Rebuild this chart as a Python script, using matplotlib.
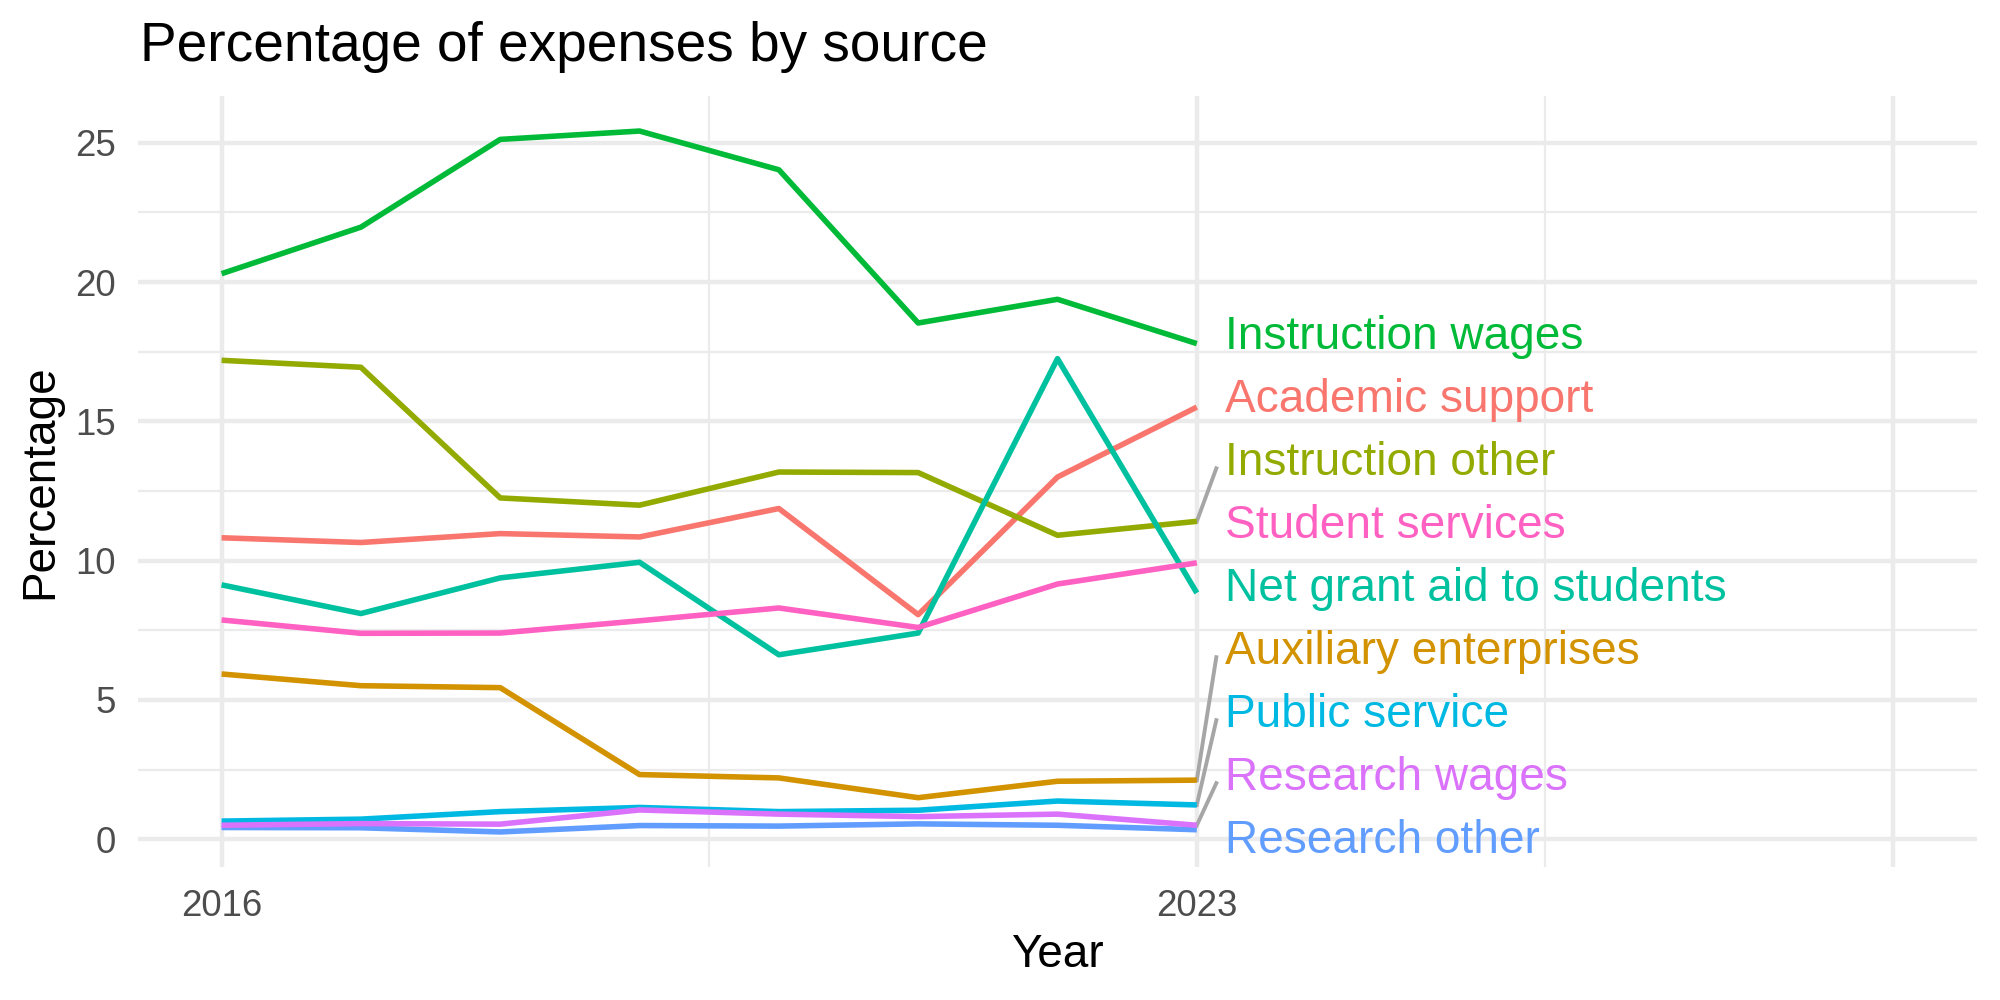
import numpy as np
import matplotlib.pyplot as plt

plt.rcParams['font.family'] = ['Liberation Sans', 'DejaVu Sans']

# Data
years = [2016, 2017, 2018, 2019, 2020, 2021, 2022, 2023]

academic_support = [10.82, 10.65, 10.97, 10.85, 11.87, 8.06, 13.00, 15.51]
auxiliary_enterprises = [5.93, 5.51, 5.44, 2.32, 2.20, 1.49, 2.08, 2.12]
instruction_other = [17.19, 16.94, 12.25, 11.99, 13.18, 13.16, 10.91, 11.41]
instruction_wages = [20.30, 21.97, 25.12, 25.42, 24.03, 18.53, 19.38, 17.79]
net_grant_aid = [9.13, 8.10, 9.38, 9.94, 6.62, 7.40, 17.25, 8.84]
public_service = [0.65, 0.72, 0.99, 1.14, 0.99, 1.04, 1.37, 1.23]
research_other = [0.42, 0.41, 0.26, 0.49, 0.47, 0.55, 0.50, 0.34]
research_wages = [0.50, 0.56, 0.54, 1.05, 0.90, 0.81, 0.90, 0.50]
student_services = [7.87, 7.39, 7.40, 7.84, 8.30, 7.60, 9.16, 9.92]

series_names = ['Academic support', 'Auxiliary enterprises', 'Instruction other',
                'Instruction wages', 'Net grant aid to students', 'Public service',
                'Research other', 'Research wages', 'Student services']
series_values = [academic_support, auxiliary_enterprises, instruction_other,
                 instruction_wages, net_grant_aid, public_service,
                 research_other, research_wages, student_services]
# ggplot default hue palette for 9 groups
colors = ['#F8766D', '#D39200', '#93AA00', '#00BA38', '#00C19F',
          '#00B9E3', '#619CFF', '#DB72FB', '#FF61C3']

x_breaks = [2016, 2023, 2028]
x_labels = ['2016', '2023', '']

fig = plt.figure(figsize=(10, 5), dpi=200)
ax = fig.add_axes([0.069, 0.133, 0.9195, 0.771])

for name, vals, col in zip(series_names, series_values, colors):
    ax.plot(years, vals, color=col, lw=2.0, solid_capstyle='butt', zorder=3)

# scales with 5% expansion like ggplot
xlo, xhi = 2016, 2028
xpad = (xhi - xlo) * 0.05
ax.set_xlim(xlo - xpad, xhi + xpad)
all_vals = np.concatenate(series_values)
ylo, yhi = all_vals.min(), all_vals.max()
ypad = (yhi - ylo) * 0.05
ax.set_ylim(ylo - ypad, yhi + ypad)

# repel-ish label placement: push overlapping labels apart, keep inside panel
gap = 2.26
ends = np.array([v[-1] for v in series_values])
lab = ends.copy()
floor = ax.get_ylim()[0] + 0.95
for _ in range(2000):
    idx = np.argsort(lab)
    for a, b in zip(idx[:-1], idx[1:]):
        d = lab[b] - lab[a]
        if d < gap:
            lab[a] -= (gap - d) / 2
            lab[b] += (gap - d) / 2
    lab = np.maximum(lab, floor)

x_end = years[-1]
for i, (name, col) in enumerate(zip(series_names, colors)):
    ly = lab[i]
    if abs(ly - ends[i]) > 1.7:
        ax.plot([x_end, x_end + 0.14], [ends[i], ly - 0.2], color='#A6A6A6',
                lw=1.4, zorder=2)
    ax.text(x_end + 0.2, ly, name, color=col, fontsize=16.55, va='center',
            ha='left', zorder=4)

ax.set_xticks(x_breaks)
ax.set_xticklabels(x_labels)
ax.set_xticks([2019.5, 2025.5], minor=True)
ax.set_yticks([0, 5, 10, 15, 20, 25])
ax.set_yticks([2.5, 7.5, 12.5, 17.5, 22.5], minor=True)

ax.grid(which='major', color='#EBEBEB', lw=1.6)
ax.grid(which='minor', color='#EBEBEB', lw=0.8)
ax.set_axisbelow(True)
for s in ax.spines.values():
    s.set_visible(False)
ax.tick_params(which='both', length=0, labelsize=13.2, labelcolor='#4D4D4D')
ax.tick_params(axis='x', pad=8)
ax.tick_params(axis='y', pad=8)

ax.set_xlabel('Year', fontsize=16.5, labelpad=3)
ax.set_ylabel('Percentage', fontsize=16.5, labelpad=4.5)
fig.text(0.07, 0.953, 'Percentage of expenses by source', fontsize=19.8,
         ha='left', va='center')

fig.savefig('out.png', dpi=200, facecolor='white')
